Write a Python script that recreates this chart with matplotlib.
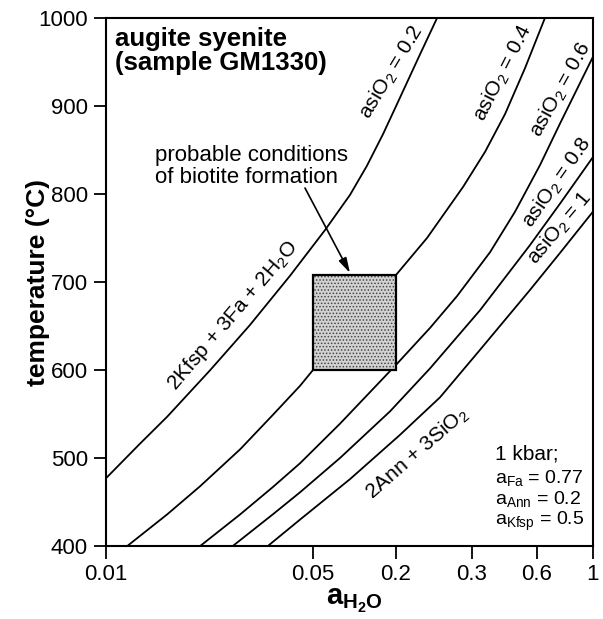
import matplotlib
matplotlib.use('Agg')
import matplotlib.pyplot as plt
import numpy as np

plt.rcParams['font.family'] = ['Liberation Sans', 'DejaVu Sans']
plt.rcParams['mathtext.fontset'] = 'custom'
plt.rcParams['mathtext.rm'] = 'Liberation Sans'
plt.rcParams['mathtext.it'] = 'Liberation Sans:italic'
plt.rcParams['mathtext.bf'] = 'Liberation Sans:bold'
plt.rcParams['mathtext.default'] = 'regular'

# ---------------- data ----------------
tick_vals = [0.01, 0.05, 0.2, 0.3, 0.6, 1]
tick_labels = ['0.01', '0.05', '0.2', '0.3', '0.6', '1']
y_ticks = [400, 500, 600, 700, 800, 900, 1000]

a_02 = [0.01, 0.0130, 0.0161, 0.0225, 0.0306, 0.0418, 0.0611, 0.0928, 0.123, 0.161, 0.201, 0.227, 0.249]
T_02 = [477, 516, 547, 600, 651, 707, 759, 799, 832, 868, 902, 958, 1000]

a_04 = [0.0118, 0.0161, 0.0208, 0.0284, 0.0366, 0.0452, 0.05, 0.2, 0.236, 0.286, 0.345, 0.427, 0.528, 0.645]
T_04 = [400, 436, 468, 510, 549, 582, 600, 708, 750, 808, 848, 891, 943, 1000]

a_06 = [0.0208, 0.0284, 0.0366, 0.0452, 0.0785, 0.201, 0.240, 0.277, 0.364, 0.475, 0.617, 0.740, 1.0]
T_06 = [400, 436, 467, 494, 539, 607, 648, 684, 734, 780, 833, 880, 956]

a_08 = [0.0268, 0.0366, 0.0452, 0.0785, 0.181, 0.240, 0.327, 0.557, 0.740, 1.0]
T_08 = [400, 436, 461, 500, 553, 602, 668, 742, 789, 842]

a_10 = [0.0352, 0.0452, 0.0928, 0.204, 0.253, 0.327, 0.557, 0.740, 1.0]
T_10 = [400, 430, 476, 526, 569, 623, 691, 733, 780]

curves = [(a_02, T_02), (a_04, T_04), (a_06, T_06), (a_08, T_08), (a_10, T_10)]

box_a = [0.05, 0.2]
box_T = [600, 708]

# ---------------- axis scale (as printed in the original) ----------------
tick_frac = [0.0, 0.42505, 0.59548, 0.75154, 0.88501, 1.0]
log_ticks = np.log10(tick_vals)

def fwd(a):
    a = np.asarray(a, dtype=float)
    return np.interp(np.log10(np.clip(a, 1e-12, None)), log_ticks, tick_frac)

def inv(f):
    f = np.asarray(f, dtype=float)
    return 10 ** np.interp(f, tick_frac, log_ticks)

fig = plt.figure(figsize=(6.03, 6.19), dpi=100)
ax = fig.add_axes([106 / 603, 1 - 546 / 619, 487 / 603, 528 / 619])
ax.set_xscale('function', functions=(fwd, inv))
ax.set_xlim(0.01, 1)
ax.set_ylim(400, 1000)

for a, T in curves:
    ax.plot(a, T, color='black', lw=1.3, solid_capstyle='butt', solid_joinstyle='round')

# probable conditions box
bx = [box_a[0], box_a[1], box_a[1], box_a[0]]
by = [box_T[0], box_T[0], box_T[1], box_T[1]]
plt.rcParams['hatch.linewidth'] = 0.7
ax.fill(bx, by, facecolor='#d2d2d2', edgecolor='#444444', hatch='.....', lw=0, zorder=3)
ax.fill(bx, by, facecolor='none', edgecolor='black', lw=1.6, zorder=4)

# ticks
ax.set_xticks(tick_vals)
ax.set_xticklabels(tick_labels)
ax.xaxis.set_minor_locator(matplotlib.ticker.NullLocator())
ax.set_yticks(y_ticks)
ax.tick_params(direction='out', length=9, width=1.3, labelsize=16, top=False, right=False, pad=4)
for s in ax.spines.values():
    s.set_linewidth(1.5)

ax.set_ylabel('temperature (°C)', fontsize=19, fontweight='bold')
ax.yaxis.set_label_coords(-0.115, 0.5)
ax.set_xlabel(r'$\mathbf{a_{H_2O}}$', fontsize=21)
ax.xaxis.set_label_coords(0.511, -0.078)

# texts
ax.text(0.0185, 0.983, 'augite syenite\n(sample GM1330)', transform=ax.transAxes,
        fontsize=18.5, fontweight='bold', ha='left', va='top', linespacing=1.0)

ax.text(0.1006, 0.760, 'probable conditions\nof biotite formation', transform=ax.transAxes,
        fontsize=16, ha='left', va='top', linespacing=1.05)
ax.annotate('', xy=(0.501, 0.517), xytext=(0.4086, 0.678), xycoords='axes fraction',
            arrowprops=dict(arrowstyle='-|>,head_length=0.9,head_width=0.25', color='black',
                            lw=1.2, shrinkA=0, shrinkB=0), zorder=5)

labels = [
    ('2Kfsp + 3Fa + 2H$_2$O', 0.2608, 0.4375, 49.5),
    ('asiO$_2$ = 0.2', 0.587, 0.898, 59),
    ('asiO$_2$ = 0.4', 0.815, 0.896, 63),
    ('asiO$_2$ = 0.6', 0.934, 0.864, 61),
    ('asiO$_2$ = 0.8', 0.926, 0.689, 55),
    ('asiO$_2$ = 1', 0.932, 0.602, 50),
    ('2Ann + 3SiO$_2$', 0.6386, 0.176, 41),
]
for txt, fx, fy, rot in labels:
    ax.text(fx, fy, txt, transform=ax.transAxes, fontsize=15, rotation=rot,
            rotation_mode='anchor', ha='center', va='center')

ax.text(0.799, 0.163, '1 kbar;', transform=ax.transAxes, fontsize=15, ha='left', va='baseline')
ax.text(0.799, 0.1193, 'a$_{Fa}$ = 0.77', transform=ax.transAxes, fontsize=14, ha='left', va='baseline')
ax.text(0.799, 0.0795, 'a$_{Ann}$ = 0.2', transform=ax.transAxes, fontsize=14, ha='left', va='baseline')
ax.text(0.799, 0.0398, 'a$_{Kfsp}$ = 0.5', transform=ax.transAxes, fontsize=14, ha='left', va='baseline')

fig.savefig('out.png', dpi=100)
